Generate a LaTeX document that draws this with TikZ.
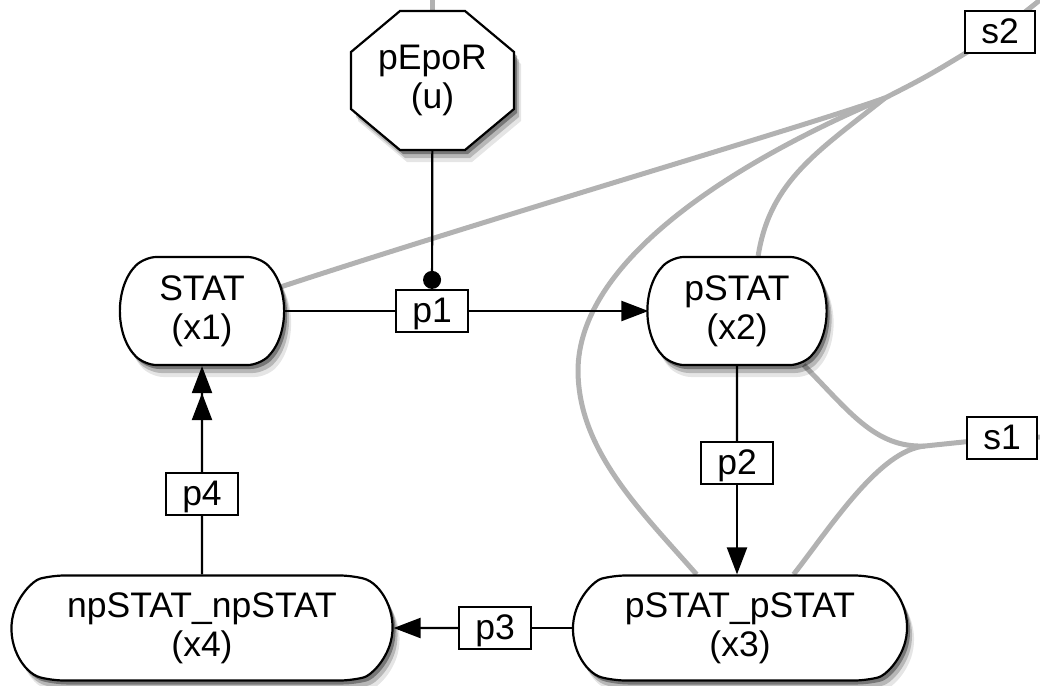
\documentclass[tikz,border=0pt]{standalone}
\usepackage{fontspec}
\setmainfont{Liberation Sans}
\usetikzlibrary{shapes.misc,arrows.meta,shadows,backgrounds}
\begin{document}
\begin{tikzpicture}[x=1pt,y=-1pt,
  every node/.style={font=\fontsize{35.5}{39}\selectfont},
  shd/.style={drop shadow={shadow xshift=3pt,shadow yshift=-4pt,opacity=0.35,fill=black},
              drop shadow={shadow xshift=5pt,shadow yshift=-8pt,opacity=0.2,fill=black},
              drop shadow={shadow xshift=7pt,shadow yshift=-12pt,opacity=0.1,fill=black}},
  spec/.style={draw,line width=2.2pt,fill=white,shd,rounded rectangle,rounded rectangle arc length=90,rounded corners=12pt,align=center,inner sep=0pt},
  cplx/.style={spec,rounded rectangle arc length=150},
  rxn/.style={draw,line width=2.2pt,fill=white,inner sep=0pt,minimum width=72pt,minimum height=42pt,text height=23pt,text depth=0pt},
  edge/.style={line width=2.2pt},
  gl/.style={draw=black!30,line width=5pt},
  tip/.style={-{Triangle[length=27pt,width=20pt]}}]

\useasboundingbox (0,0) rectangle (1040,685);

% pEpoR octagon
\filldraw[fill=white,line width=2.2pt,shd] (400,11) -- ++(65,0) -- ++(49,41) -- ++(0,57) -- ++(-49,41) -- ++(-65,0) -- ++(-49,-41) -- ++(0,-57) -- cycle;
\node[inner sep=0pt,minimum width=163pt,minimum height=139pt,align=center] (u) at (432.5,80.5) {pEpoR\\(u)};

% species
\node[spec,minimum width=160pt,minimum height=108pt] (x1) at (202,311) {STAT\\(x1)};
\node[spec,minimum width=175pt,minimum height=108pt] (x2) at (737,311) {pSTAT\\(x2)};
\node[cplx,minimum width=334pt,minimum height=105pt] (x3) at (740,628) {pSTAT\_pSTAT\\(x3)};
\node[cplx,minimum width=381pt,minimum height=105pt] (x4) at (202,628) {npSTAT\_npSTAT\\(x4)};

% reactions
\node[rxn] (p1) at (432,311) {p1};
\node[rxn] (p2) at (737,463) {p2};
\node[rxn] (p3) at (495,628) {p3};
\node[rxn] (p4) at (202,494) {p4};
\node[rxn,minimum width=70pt] (s1) at (1002,438) {s1};
\node[rxn,minimum width=70pt] (s2) at (1000,32) {s2};

% connectors
\draw[edge] (x1) -- (p1);
\draw[edge,tip] (p1) -- (x2);
\draw[edge] (x2) -- (p2);
\draw[edge,tip] (p2.south) -- (p2.south |- x3.north);
\draw[edge] (x3) -- (p3);
\draw[edge,tip] (p3) -- (x4);
\draw[edge] (x4) -- (p4);
\draw[edge,-{Triangle[length=27pt,width=20pt] Triangle[length=27pt,width=20pt]}] (p4) -- (x1);
\draw[edge,-{Circle[length=18pt]}] (u) -- (p1);

% gray connectors
\begin{pgfonlayer}{background}
\coordinate (J2) at (885,98);
\coordinate (J1) at (925,446);
\draw[gl] (u.north) -- ++(0,-20);
\draw[gl] (x1.17) .. controls (500,215) and (800,128) .. (J2);
\draw[gl] (x3.129) .. controls (640,510) and (578,450) .. (578,370) .. controls (579,265) and (720,168) .. (J2);
\draw[gl] (x2.69) .. controls (770,180) and (820,150) .. (J2);
\draw[gl] (J2) .. controls (930,75) .. (s2.center) -- ++(60,-48);
\draw[gl] (x2.-39) .. controls (850,412) and (875,448) .. (J1);
\draw[gl] (x3.45) .. controls (832,525) and (880,450) .. (J1);
\draw[gl] (J1) -- (s1.center) -- ++(80,-2);
\end{pgfonlayer}
\end{tikzpicture}
\end{document}
